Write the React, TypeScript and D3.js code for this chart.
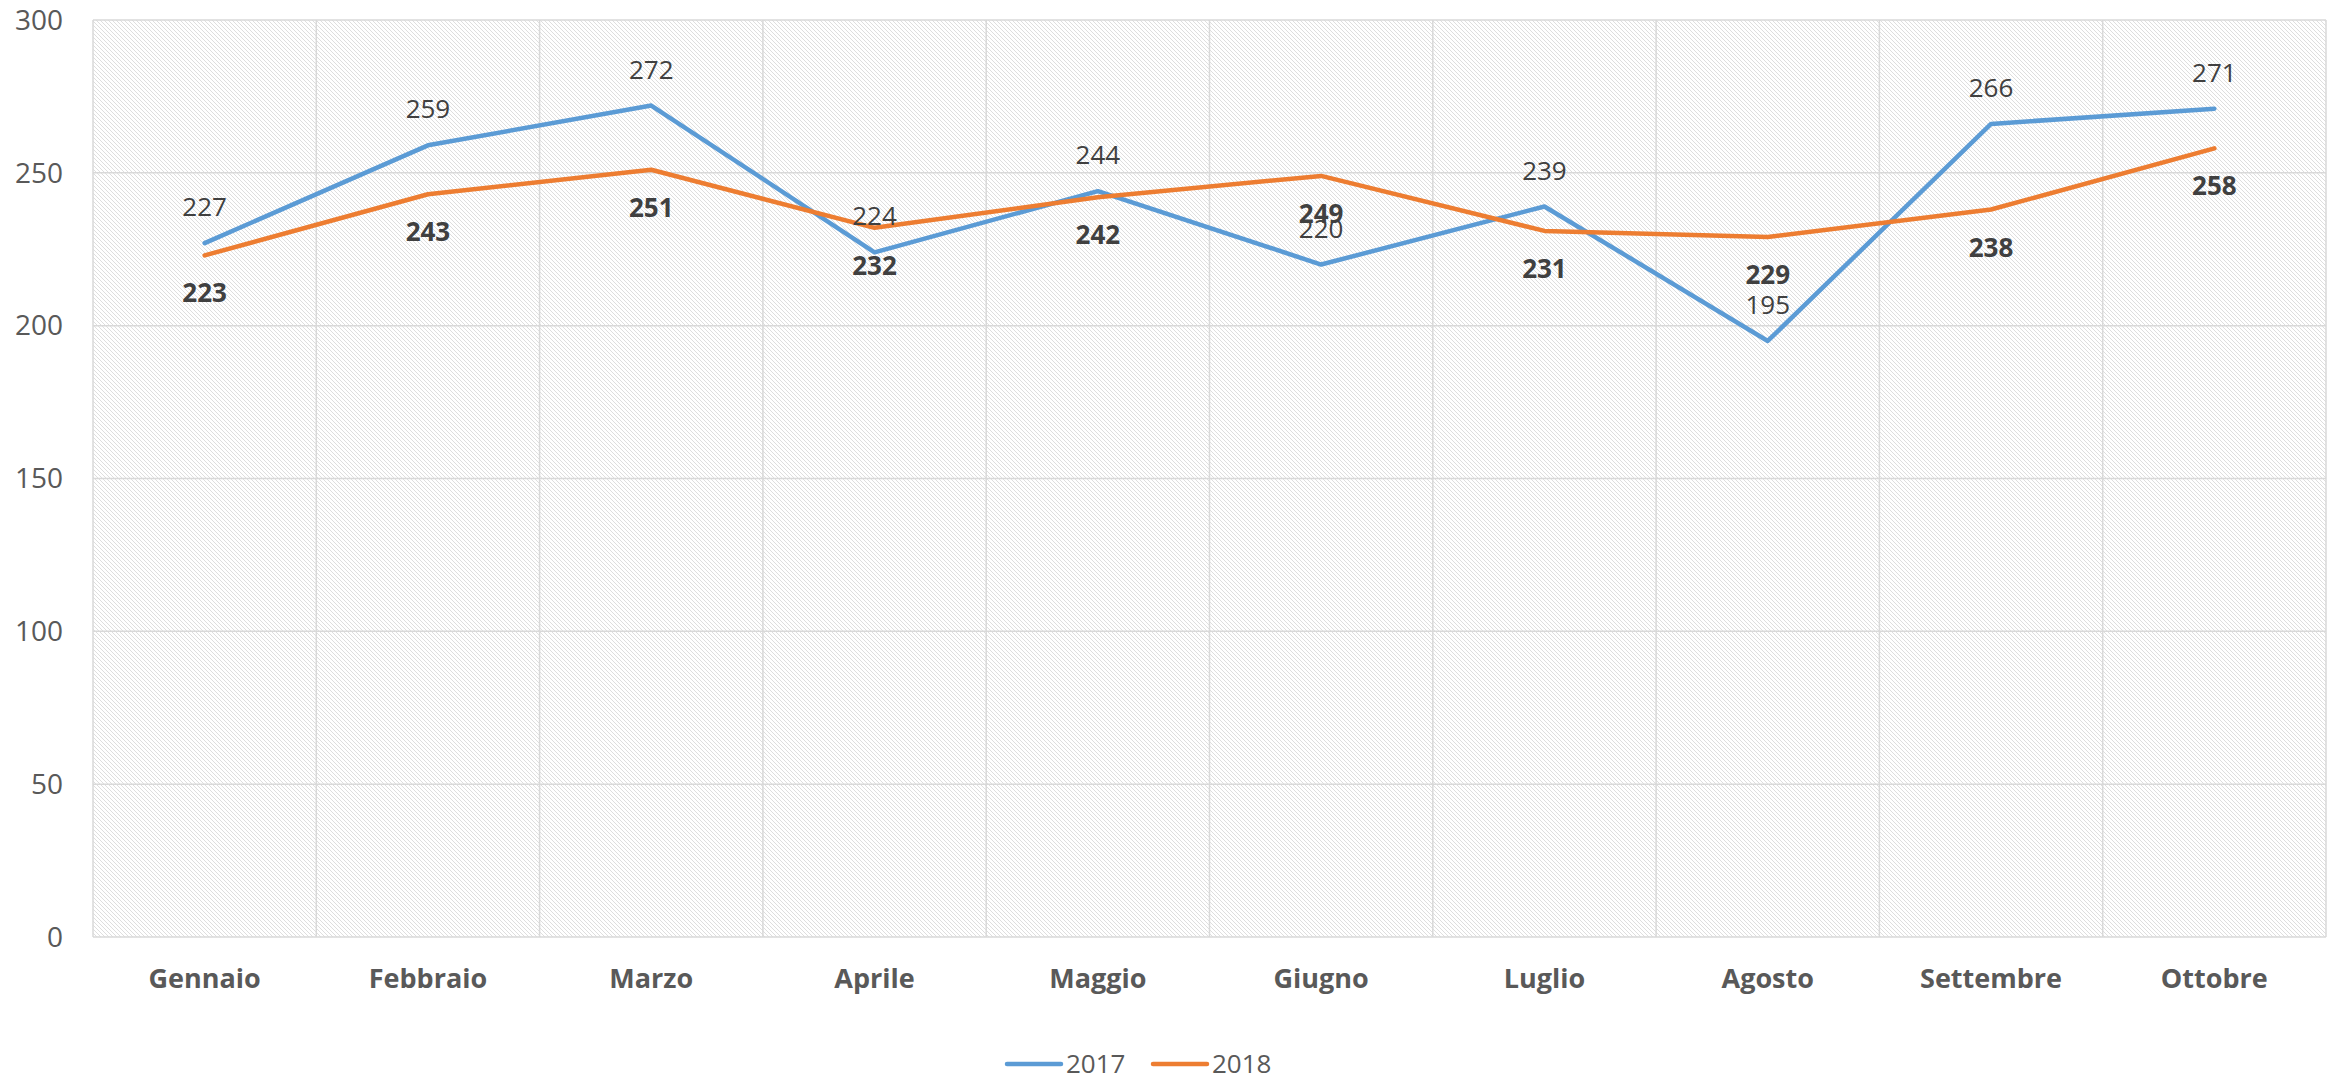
import { useEffect, useRef } from 'react';
import * as d3 from 'd3';

const months = ['Gennaio', 'Febbraio', 'Marzo', 'Aprile', 'Maggio', 'Giugno', 'Luglio', 'Agosto', 'Settembre', 'Ottobre'];
const values2017 = [227, 259, 272, 224, 244, 220, 239, 195, 266, 271];
const values2018 = [223, 243, 251, 232, 242, 249, 231, 229, 238, 258];
const yTicks = [0, 50, 100, 150, 200, 250, 300];

const W = 2341;
const H = 1082;
const FONT = '"Open Sans", "Segoe UI", sans-serif';

function App() {
  const ref = useRef<SVGSVGElement>(null);

  useEffect(() => {
    const svg = d3.select(ref.current);
    svg.selectAll('*').remove();

    const left = 93, right = 2326, top = 20, bottom = 937;

    const x = d3.scaleBand().domain(months).range([left, right]);
    const y = d3.scaleLinear().domain([0, 300]).range([bottom, top]);
    const cx = (m: string) => (x(m) || 0) + x.bandwidth() / 2;

    // hatched plot background
    const defs = svg.append('defs');
    const pat = defs.append('pattern')
      .attr('id', 'hatch').attr('patternUnits', 'userSpaceOnUse')
      .attr('width', 4).attr('height', 4);
    pat.append('rect').attr('width', 4).attr('height', 4).attr('fill', '#fff');
    pat.append('path').attr('d', 'M-1,-1 L5,5 M-1,3 L1,5 M3,-1 L5,1')
      .attr('stroke', '#dedede').attr('stroke-width', 1);

    svg.append('rect')
      .attr('x', left).attr('y', top)
      .attr('width', right - left).attr('height', bottom - top)
      .attr('fill', 'url(#hatch)');

    // horizontal gridlines
    svg.append('g').selectAll('line').data(yTicks).enter().append('line')
      .attr('x1', left).attr('x2', right)
      .attr('y1', d => y(d)).attr('y2', d => y(d))
      .attr('stroke', '#d9d9d9').attr('stroke-width', 1.5);

    // vertical gridlines at category boundaries
    const bounds = months.map(m => x(m) || 0).concat([right]);
    svg.append('g').selectAll('line').data(bounds).enter().append('line')
      .attr('x1', d => d).attr('x2', d => d)
      .attr('y1', top).attr('y2', bottom)
      .attr('stroke', '#d9d9d9').attr('stroke-width', 1.5);

    // y tick labels
    svg.append('g').selectAll('text').data(yTicks).enter().append('text')
      .attr('x', left - 30).attr('y', d => y(d)).attr('dy', '0.35em')
      .attr('text-anchor', 'end')
      .style('font-family', FONT).style('font-size', '28px').style('fill', '#595959')
      .text(d => d);

    // x labels
    svg.append('g').selectAll('text').data(months).enter().append('text')
      .attr('x', d => cx(d)).attr('y', 988)
      .attr('text-anchor', 'middle')
      .style('font-family', FONT).style('font-size', '27px').style('font-weight', '700')
      .style('fill', '#595959')
      .text(d => d);

    const line = d3.line<number>()
      .x((_, i) => cx(months[i]))
      .y(d => y(d));

    const series = [
      { name: '2017', values: values2017, color: '#5B9BD5' },
      { name: '2018', values: values2018, color: '#ED7D31' },
    ];

    series.forEach(s => {
      svg.append('path').datum(s.values)
        .attr('d', line)
        .attr('fill', 'none')
        .attr('stroke', s.color).attr('stroke-width', 4.5)
        .attr('stroke-linejoin', 'round').attr('stroke-linecap', 'round');
    });

    // data labels: 2017 above (regular), 2018 below (bold)
    svg.append('g').selectAll('text').data(values2017).enter().append('text')
      .attr('x', (_, i) => cx(months[i])).attr('y', d => y(d) - 36).attr('dy', '0.35em')
      .attr('text-anchor', 'middle')
      .style('font-family', FONT).style('font-size', '26px').style('fill', '#404040')
      .text(d => d);

    svg.append('g').selectAll('text').data(values2018).enter().append('text')
      .attr('x', (_, i) => cx(months[i])).attr('y', d => y(d) + 38).attr('dy', '0.35em')
      .attr('text-anchor', 'middle')
      .style('font-family', FONT).style('font-size', '26px').style('font-weight', '700')
      .style('fill', '#404040')
      .text(d => d);

    // legend
    const legendX = [1007, 1153];
    series.forEach((s, i) => {
      const g = svg.append('g').attr('transform', `translate(${legendX[i]}, 1064)`);
      g.append('line').attr('x1', 0).attr('x2', 54).attr('y1', 0).attr('y2', 0)
        .attr('stroke', s.color).attr('stroke-width', 4.5).attr('stroke-linecap', 'round');
      g.append('text').attr('x', 59).attr('y', 0).attr('dy', '0.35em')
        .style('font-family', FONT).style('font-size', '26px').style('fill', '#595959')
        .text(s.name);
    });
  }, []);

  return (
    <svg ref={ref} width={W} height={H}
      style={{ position: 'absolute', left: 0, top: 0, background: '#fff' }} />
  );
}

export default App;
